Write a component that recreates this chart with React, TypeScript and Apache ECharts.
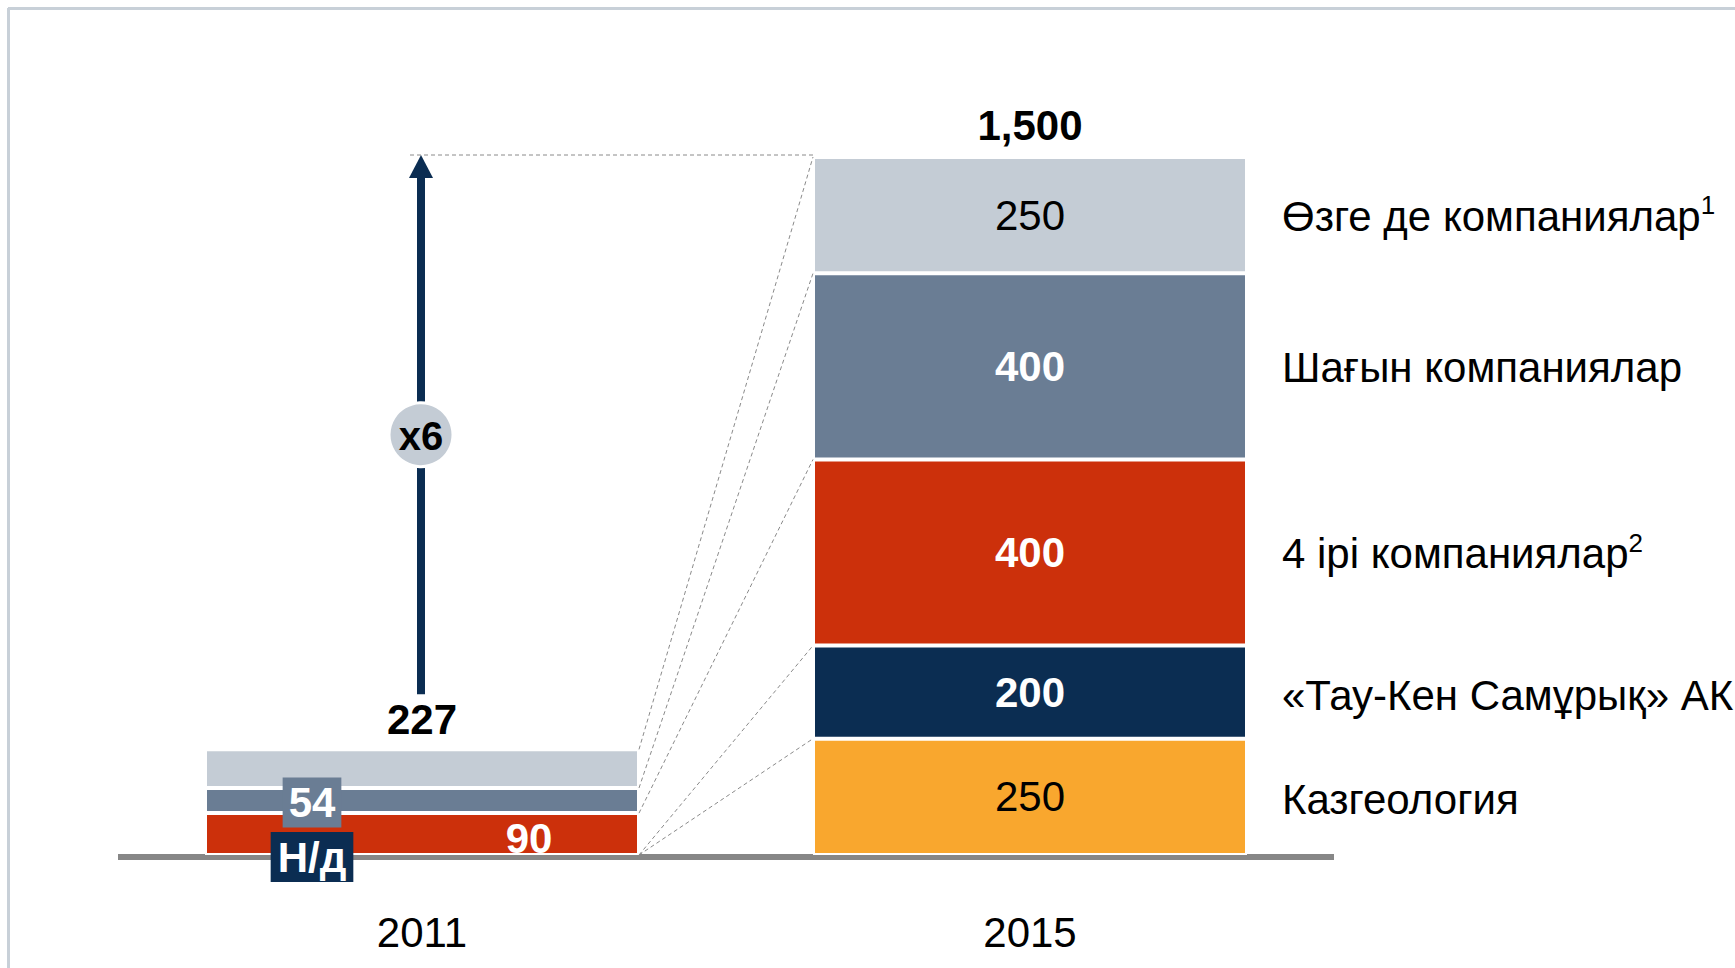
import React, { useEffect, useRef } from 'react';
import * as echarts from 'echarts';

// ---- data ----
const years = ['2011', '2015'];
const seriesNames = [
  'Казгеология',
  '«Тау-Кен Самұрық» АК',
  '4 ірі компаниялар',
  'Шағын компаниялар',
  'Өзге де компаниялар',
];
const footnotes = ['', '', '2', '', '1'];
const kazgeologiya: (number | null)[] = [null, 250];
const tauKen: (number | null)[] = [null, 200];
const big4: (number | null)[] = [90, 400];
const smallCos: (number | null)[] = [54, 400];
const otherCos: (number | null)[] = [83, 250];
const notAvailableLabel = 'Н/д';
const growthLabel = 'x6';

// ---- styles ----
const colors = ['#f9a72e', '#0b2d52', '#cc300b', '#6a7d94', '#c4ccd5'];
const FONT = '"Liberation Sans", Arial, "DejaVu Sans", sans-serif';
const FS = 42;
const BAR_W = 434;

export default function App() {
  const ref = useRef<HTMLDivElement>(null);

  useEffect(() => {
    const chart = echarts.init(ref.current!, null, { renderer: 'svg' });
    const values = [kazgeologiya, tauKen, big4, smallCos, otherCos];

    const labelStyles: any[] = [
      { color: '#000', fontWeight: 'normal' },
      { color: '#fff', fontWeight: 'bold' },
      { color: '#fff', fontWeight: 'bold' },
      { color: '#fff', fontWeight: 'bold' },
      { color: '#000', fontWeight: 'normal' },
    ];
    const label2011: any[] = [
      null,
      null,
      { show: true, offset: [107, 4] },
      { show: true, offset: [-110, 2], backgroundColor: colors[3], padding: [5, 6, 3, 6] },
      { show: false },
    ];

    const series = values.map((vals, i) => ({
      type: 'bar',
      name: seriesNames[i],
      stack: 'total',
      barWidth: BAR_W,
      z: 2,
      itemStyle: { color: colors[i], borderColor: '#fff', borderWidth: 2 },
      label: {
        show: true,
        position: 'inside',
        fontFamily: FONT,
        fontSize: FS,
        ...labelStyles[i],
      },
      data: vals.map((v, j) => {
        const val = v == null ? '-' : v;
        if (j === 0 && label2011[i]) return { value: val, label: label2011[i] };
        return val;
      }),
    }));

    chart.setOption({
      animation: false,
      grid: { left: 118, right: 401, top: 157, bottom: 113, containLabel: false },
      xAxis: {
        type: 'category',
        data: years,
        offset: 2,
        axisLine: { onZero: false, lineStyle: { color: '#878787', width: 6, cap: 'butt' } },
        axisTick: { show: false },
        axisLabel: { margin: 54, fontSize: FS, color: '#000', fontFamily: FONT },
      },
      yAxis: { type: 'value', min: 0, max: 1500, show: false },
      series,
    });

    const px = (cat: string, v: number) =>
      chart.convertToPixel({ gridIndex: 0 }, [cat, v]) as number[];

    const tops = years.map((_, j) => {
      let s = 0;
      return values.map((vals) => {
        s += vals[j] == null ? 0 : (vals[j] as number);
        return s;
      });
    });
    const totals = tops.map((t) => t[t.length - 1]);

    const c0 = px(years[0], 0);
    const c1 = px(years[1], 0);
    const x0Right = c0[0] + BAR_W / 2;
    const x1Left = c1[0] - BAR_W / 2;
    const x1Right = c1[0] + BAR_W / 2;
    const yTop0 = px(years[0], totals[0])[1];
    const yTop1 = px(years[1], totals[1])[1];

    const g: any[] = [];
    // frame
    g.push({ type: 'line', z: 1, shape: { x1: 8, y1: 8.5, x2: 1735, y2: 8.5 }, style: { stroke: '#c8d0d8', lineWidth: 3 } });
    g.push({ type: 'line', z: 1, shape: { x1: 8.5, y1: 8, x2: 8.5, y2: 968 }, style: { stroke: '#c8d0d8', lineWidth: 3 } });

    const dash = { stroke: '#8a8a8a', lineWidth: 1, lineDash: [4, 3] };
    // connectors
    for (let i = 0; i < values.length; i++) {
      const a = px(years[0], tops[0][i]);
      const b = px(years[1], tops[1][i]);
      g.push({ type: 'line', z: 5, shape: { x1: x0Right, y1: a[1], x2: x1Left, y2: b[1] }, style: dash });
    }
    g.push({ type: 'line', z: 5, shape: { x1: c0[0] - 12, y1: yTop1 - 2, x2: x1Left, y2: yTop1 - 2 }, style: dash });

    // totals
    g.push({
      type: 'text', z: 10, x: c0[0], y: yTop0 - 30,
      style: { text: totals[0].toLocaleString('en-US'), fontFamily: FONT, fontSize: FS, fontWeight: 'bold', fill: '#000', align: 'center', verticalAlign: 'middle' },
    });
    g.push({
      type: 'text', z: 10, x: c1[0], y: yTop1 - 32,
      style: { text: totals[1].toLocaleString('en-US'), fontFamily: FONT, fontSize: FS, fontWeight: 'bold', fill: '#000', align: 'center', verticalAlign: 'middle' },
    });

    // right-hand labels
    for (let i = 0; i < values.length; i++) {
      const lo = i === 0 ? 0 : tops[1][i - 1];
      const mid = px(years[1], (lo + tops[1][i]) / 2)[1];
      const txt = footnotes[i]
        ? `{m|${seriesNames[i]}}{s|${footnotes[i]}}`
        : `{m|${seriesNames[i]}}`;
      g.push({
        type: 'text', z: 10, x: x1Right + 35, y: mid + (i < 2 ? 3 : 1),
        style: {
          text: txt,
          align: 'left',
          verticalAlign: 'middle',
          fill: '#000',
          fontFamily: FONT,
          fontSize: FS,
          rich: {
            m: { fontFamily: FONT, fontSize: FS, lineHeight: 48, fill: '#000', color: '#000' },
            s: { fontFamily: FONT, fontSize: 26, lineHeight: 28, verticalAlign: 'top', fill: '#000', color: '#000' },
          },
        },
      });
    }

    // growth arrow
    const cx = c0[0] - 1;
    const tipY = yTop1 - 2;
    const headBase = tipY + 23;
    const shaftBottom = yTop0 - 55;
    const circleY = (shaftBottom + tipY) / 2 + 10;
    g.push({ type: 'line', z: 6, shape: { x1: cx, y1: shaftBottom, x2: cx, y2: headBase }, style: { stroke: '#0b2d52', lineWidth: 8 } });
    g.push({ type: 'polygon', z: 6, shape: { points: [[cx, tipY], [cx - 12, headBase], [cx + 12, headBase]] }, style: { fill: '#0b2d52' } });
    g.push({ type: 'circle', z: 7, shape: { cx, cy: circleY, r: 32 }, style: { fill: '#c4ccd5', stroke: '#fff', lineWidth: 3 } });
    g.push({
      type: 'text', z: 8, x: cx, y: circleY + 1,
      style: { text: growthLabel, fontFamily: FONT, fontSize: 40, fontWeight: 'bold', fill: '#000', align: 'center', verticalAlign: 'middle' },
    });

    // N/A marker
    g.push({
      type: 'text', z: 10, x: c0[0] - 110, y: c0[1] + 2,
      style: {
        text: notAvailableLabel, fontFamily: FONT, fontSize: FS, fontWeight: 'bold', fill: '#fff',
        align: 'center', verticalAlign: 'middle', backgroundColor: '#0b2d52', padding: [5, 7, 3, 7],
      },
    });

    chart.setOption({ graphic: g });

    return () => chart.dispose();
  }, []);

  return (
    <div
      ref={ref}
      style={{ position: 'absolute', left: 0, top: 0, width: 1735, height: 968, background: '#fff' }}
    />
  );
}
